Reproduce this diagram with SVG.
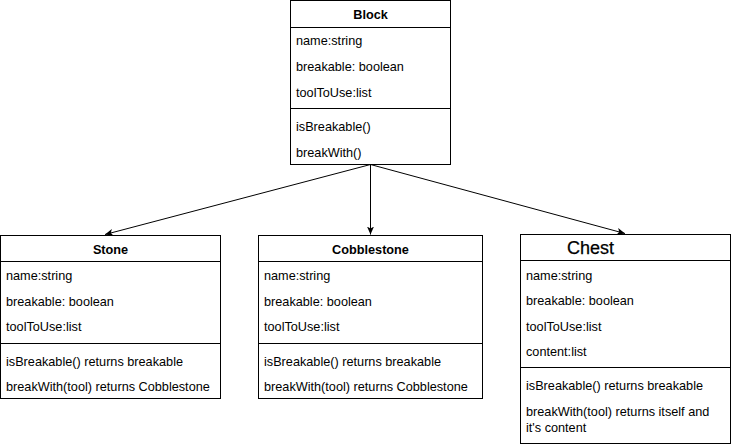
<svg xmlns="http://www.w3.org/2000/svg" width="731" height="448" viewBox="0 0 731 448">
<style>
  rect.box { fill: #ffffff; stroke: #000000; stroke-width: 1; }
  line.sep { stroke: #000000; stroke-width: 1; }
  text { font-family: "Liberation Sans", Arial, sans-serif; font-size: 12.7px; fill: #000000; }
  text.title { font-weight: bold; text-anchor: middle; }
  text.big { font-size: 18px; text-anchor: middle; stroke: #000000; stroke-width: 0.25; }
  .conn { stroke: #000000; stroke-width: 1; fill: none; marker-end: url(#arrow); }
</style>
<defs>
  <marker id="arrow" markerWidth="10" markerHeight="8" refX="8" refY="3.5" orient="auto" markerUnits="userSpaceOnUse">
    <path d="M0,0 L8,3.5 L0,7 L2,3.5 Z" fill="#000000"/>
  </marker>
</defs>
<rect width="731" height="448" fill="#ffffff"/>

<g id="connectors">
  <line class="conn" x1="370.5" y1="164.5" x2="105" y2="234.5"/>
  <line class="conn" x1="370.5" y1="164.5" x2="370.5" y2="234.5"/>
  <line class="conn" x1="370.5" y1="164.5" x2="625" y2="233.5"/>
</g>

<g id="block">
  <rect class="box" x="290.5" y="0.5" width="160" height="164"/>
  <line class="sep" x1="290.5" y1="27.5" x2="450.5" y2="27.5"/>
  <line class="sep" x1="290.5" y1="108.5" x2="450.5" y2="108.5"/>
  <text class="title" x="370.5" y="19">Block</text>
  <text x="296" y="45">name:string</text>
  <text x="296" y="71">breakable: boolean</text>
  <text x="296" y="96.5">toolToUse:list</text>
  <text x="296" y="131">isBreakable()</text>
  <text x="296" y="156.5">breakWith()</text>
</g>

<g id="stone">
  <rect class="box" x="0.5" y="235.5" width="220" height="163"/>
  <line class="sep" x1="0.5" y1="261.5" x2="220.5" y2="261.5"/>
  <line class="sep" x1="0.5" y1="343.5" x2="220.5" y2="343.5"/>
  <text class="title" x="110.5" y="254">Stone</text>
  <text x="6" y="280">name:string</text>
  <text x="6" y="305.5">breakable: boolean</text>
  <text x="6" y="331">toolToUse:list</text>
  <text x="6" y="365.5">isBreakable() returns breakable</text>
  <text x="6" y="391">breakWith(tool) returns Cobblestone</text>
</g>

<g id="cobblestone">
  <rect class="box" x="258.5" y="235.5" width="224" height="163"/>
  <line class="sep" x1="258.5" y1="261.5" x2="482.5" y2="261.5"/>
  <line class="sep" x1="258.5" y1="343.5" x2="482.5" y2="343.5"/>
  <text class="title" x="370.5" y="254">Cobblestone</text>
  <text x="264" y="280">name:string</text>
  <text x="264" y="305.5">breakable: boolean</text>
  <text x="264" y="331">toolToUse:list</text>
  <text x="264" y="365.5">isBreakable() returns breakable</text>
  <text x="264" y="391">breakWith(tool) returns Cobblestone</text>
</g>

<g id="chest">
  <rect class="box" x="520.5" y="234.5" width="210" height="209"/>
  <line class="sep" x1="520.5" y1="260.5" x2="730.5" y2="260.5"/>
  <line class="sep" x1="520.5" y1="367.5" x2="730.5" y2="367.5"/>
  <text class="big" x="590.5" y="254">Chest</text>
  <text x="526" y="280">name:string</text>
  <text x="526" y="305">breakable: boolean</text>
  <text x="526" y="330.5">toolToUse:list</text>
  <text x="526" y="356">content:list</text>
  <text x="526" y="390">isBreakable() returns breakable</text>
  <text x="526" y="416">breakWith(tool) returns itself and</text>
  <text x="526" y="432">it's content</text>
</g>
</svg>
